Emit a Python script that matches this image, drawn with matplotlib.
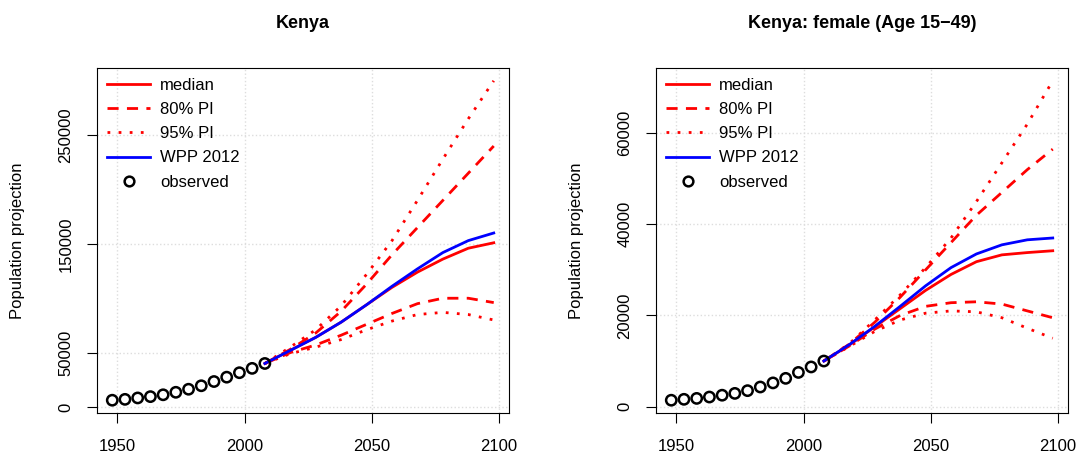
import matplotlib.pyplot as plt
from matplotlib.lines import Line2D

obs_years = list(range(1948, 2009, 5))
proj_years = list(range(2008, 2099, 10))

# Kenya total (thousands)
k_obs = [6.2, 7.0, 8.3, 9.5, 11.2, 13.5, 16.3, 19.5, 23.4, 27.4, 31.5, 35.5, 40.0]
k_med = [40, 52, 64, 78, 94, 110, 124, 136, 146, 151]
k_wpp = [40, 52, 64, 78, 94, 111, 127, 142, 153, 160]
k_80u = [40, 53, 68, 88, 113, 140, 165, 190, 215, 240]
k_80l = [40, 50, 57, 66, 76, 86, 95, 100, 100, 96]
k_95u = [40, 55, 71, 93, 122, 153, 190, 228, 265, 300]
k_95l = [40, 49, 55, 62, 71, 79, 85, 87, 85, 80]

# Kenya female 15-49 (thousands)
f_obs = [1.4, 1.6, 1.8, 2.1, 2.5, 2.9, 3.5, 4.3, 5.2, 6.2, 7.5, 8.7, 10.0]
f_med = [10, 13.5, 17.5, 21.5, 25.5, 29, 31.8, 33.3, 33.8, 34.2]
f_wpp = [10, 13.6, 17.6, 22, 26.5, 30.5, 33.5, 35.5, 36.6, 37]
f_80u = [10, 13.7, 18.5, 24, 30, 36, 42, 47, 52, 56.5]
f_80l = [10, 13.3, 17, 20, 22, 22.8, 23, 22.5, 21, 19.5]
f_95u = [10, 13.8, 19, 24.5, 30.5, 37, 45, 53.5, 62, 71.5]
f_95l = [10, 13.2, 16.5, 19, 20.5, 21, 20.8, 19.5, 17.2, 15]

panels = [
    ("Kenya", k_obs, k_med, k_wpp, k_80u, k_80l, k_95u, k_95l, [0, 50000, 150000, 250000]),
    ("Kenya: female (Age 15\u221249)", f_obs, f_med, f_wpp, f_80u, f_80l, f_95u, f_95l,
     [0, 20000, 40000, 60000]),
]

plt.rcParams['font.family'] = ['Liberation Sans', 'DejaVu Sans']
fig = plt.figure(figsize=(10.78, 4.57), dpi=100)
boxes = [(97, 509), (656, 1068)]

for (x0, x1), (title, obs, med, wpp, u80, l80, u95, l95, yt) in zip(boxes, panels):
    ax = fig.add_axes([x0 / 1078, 1 - 413 / 457, (x1 - x0) / 1078, 345 / 457])
    s = lambda v: [a * 1000 for a in v]
    ax.grid(True, color='#dddddd', linestyle=':', linewidth=1)
    ax.plot(proj_years, s(med), color='red', lw=2)
    ax.plot(proj_years, s(u80), color='red', lw=2, ls=(0, (4, 3)))
    ax.plot(proj_years, s(l80), color='red', lw=2, ls=(0, (4, 3)))
    ax.plot(proj_years, s(u95), color='red', lw=2, ls=(0, (1, 3)))
    ax.plot(proj_years, s(l95), color='red', lw=2, ls=(0, (1, 3)))
    ax.plot(proj_years, s(wpp), color='blue', lw=2)
    ax.scatter(obs_years, s(obs), s=55, facecolors='none', edgecolors='black', linewidths=1.8, zorder=5)
    allv = s(obs + u95)
    lo, hi = min(allv), max(allv)
    pad = 0.04 * (hi - lo)
    ax.set_ylim(lo - pad, hi + pad)
    ax.set_xlim(1942, 2104)
    ax.set_xticks([1950, 2000, 2050, 2100])
    ax.set_yticks(yt)
    ax.set_yticklabels([str(v) for v in yt], rotation=90, va='center')
    ax.tick_params(labelsize=12, direction='out', length=7)
    ax.tick_params(axis='x', pad=12)
    ax.tick_params(axis='y', pad=10)
    ax.set_ylabel("Population projection", fontsize=12, labelpad=24)
    ax.set_title(title, fontsize=13, fontweight='bold', pad=29)
    handles = [
        Line2D([], [], color='red', lw=2),
        Line2D([], [], color='red', lw=2, ls=(0, (4, 3))),
        Line2D([], [], color='red', lw=2, ls=(0, (1, 3))),
        Line2D([], [], color='blue', lw=2),
        Line2D([], [], marker='o', ls='none', mfc='none', mec='black', mew=1.8, ms=7),
    ]
    ax.legend(handles, ["median", "80% PI", "95% PI", "WPP 2012", "observed"],
              loc='upper left', frameon=False, fontsize=12, handlelength=2.6,
              handletextpad=0.6, labelspacing=0.55, borderaxespad=0.2)

fig.savefig("out.png", dpi=100)
